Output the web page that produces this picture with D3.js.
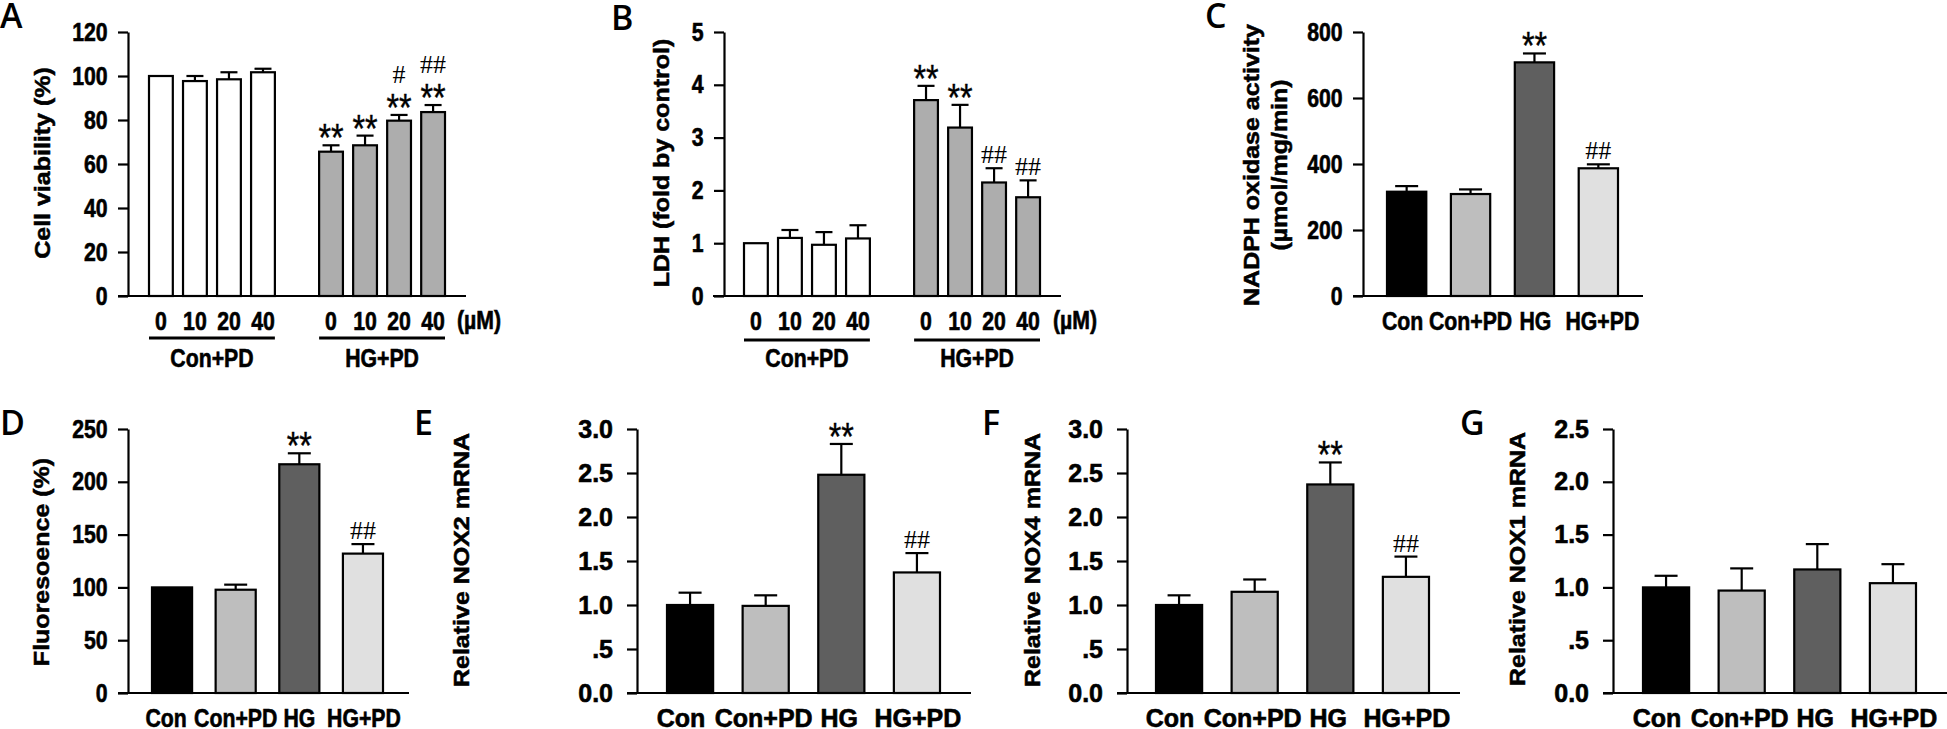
<!DOCTYPE html>
<html>
<head>
<meta charset="utf-8">
<script src="https://cdn.jsdelivr.net/npm/d3@7"></script>
<style>
  html, body { margin: 0; padding: 0; background: #fff; }
  svg { display: block; }
</style>
</head>
<body>
<svg id="fig" width="1947" height="729"></svg>
<script>
// ---- data ----
const doses = ["0", "10", "20", "40"];
const groups = ["Con", "Con+PD", "HG", "HG+PD"];

// A: cell viability (%)
const viabCon = [100, 97.7, 98.5, 101.7];
const viabConErr = [0, 2.3, 3.2, 1.6];
const viabHG = [65.6, 68.5, 79.7, 83.6];
const viabHGErr = [2.9, 4.4, 2.6, 3.2];
const viabStars = ["", "", "", "", "**", "**", "**", "**"];
const viabHash = ["", "", "", "", "", "", "#", "##"];

// B: LDH (fold by control)
const ldhCon = [1.0, 1.1, 0.97, 1.09];
const ldhConErr = [0, 0.15, 0.24, 0.25];
const ldhHG = [3.71, 3.19, 2.15, 1.87];
const ldhHGErr = [0.27, 0.43, 0.27, 0.32];
const ldhStars = ["", "", "", "", "**", "**", "", ""];
const ldhHash = ["", "", "", "", "", "", "##", "##"];

// C-G: four groups
const nadph = [316, 309, 708, 387];
const nadphErr = [17, 14, 27, 12];
const fluor = [100, 97.8, 216.6, 132];
const fluorErr = [0, 4.8, 10.4, 9];
const nox2 = [1.0, 0.99, 2.48, 1.37];
const nox2Err = [0.14, 0.12, 0.35, 0.22];
const nox4 = [1.0, 1.15, 2.37, 1.32];
const nox4Err = [0.11, 0.14, 0.25, 0.23];
const nox1 = [1.0, 0.97, 1.17, 1.04];
const nox1Err = [0.11, 0.21, 0.24, 0.18];
const fourStars = ["", "", "**", ""];
const fourHash = ["", "", "", "##"];
const noMarks = ["", "", "", ""];

const groupFills = ["#000000", "#bebebe", "#5f5f5f", "#e0e0e0"];

const SQ = 0.85; // panels A-D are squeezed horizontally in the source figure
const sans = "'Liberation Sans', Arial, sans-serif";

const svg = d3.select("#fig");

function fmtDec(d) {
  if (d === 0) return "0.0";
  if (d === 0.5) return ".5";
  return d.toFixed(1);
}

// heavy bold text like the scanned figure
function boldText(sel, size) {
  sel.attr("font-family", sans).attr("font-weight", "bold").attr("font-size", size)
    .attr("fill", "#000").attr("stroke", "#000").attr("stroke-width", 0.6);
}

function drawPanel(cfg) {
  const g = svg.append("g");
  const sx = cfg.sx;
  const shift = cfg.labelShift || cfg.bars.map(() => 0);

  const y = d3.scaleLinear().domain([0, cfg.yMax]).range([cfg.yBot, cfg.yTop]);
  const x = d3.scaleBand().domain(cfg.keys).range(cfg.xRange)
    .paddingInner(cfg.pad).paddingOuter(0);
  const bw = x.bandwidth();

  // y axis
  const ya = g.append("g")
    .attr("transform", `translate(${cfg.axisX},0)`)
    .call(d3.axisLeft(y).tickValues(cfg.ticks).tickFormat(cfg.fmt || d3.format("d"))
      .tickSize(10).tickPadding(14).tickSizeOuter(0));
  ya.select(".domain").attr("stroke", "#000").attr("stroke-width", 2.2);
  ya.selectAll(".tick line").attr("stroke", "#000").attr("stroke-width", 2.2);
  ya.selectAll(".tick text").call(boldText, 25)
    .attr("transform", `scale(${sx},1)`);

  // baseline
  g.append("line")
    .attr("x1", cfg.base[0]).attr("x2", cfg.base[1])
    .attr("y1", y(0)).attr("y2", y(0))
    .attr("stroke", "#000").attr("stroke-width", 2.2);

  // x labels
  const xa = g.append("g")
    .attr("transform", `translate(0,${y(0)})`)
    .call(d3.axisBottom(x).tickValues(cfg.bars.map(b => b.key))
      .tickFormat((d, i) => cfg.bars[i].label).tickSize(0).tickPadding(16));
  xa.select(".domain").remove();
  xa.selectAll(".tick text").call(boldText, 25)
    .attr("transform", (d, i) => `translate(${shift[i]},0) scale(${sx},1)`);

  // bars
  g.selectAll("rect.bar").data(cfg.bars).enter().append("rect")
    .attr("class", "bar")
    .attr("x", d => x(d.key))
    .attr("y", d => y(d.v))
    .attr("width", bw)
    .attr("height", d => y(0) - y(d.v))
    .attr("fill", d => d.fill)
    .attr("stroke", "#000").attr("stroke-width", 2.2);

  // error bars (upper only)
  const withErr = cfg.bars.filter(d => d.e > 0);
  g.selectAll("line.err").data(withErr).enter().append("line")
    .attr("x1", d => x(d.key) + bw / 2).attr("x2", d => x(d.key) + bw / 2)
    .attr("y1", d => y(d.v)).attr("y2", d => y(d.v + d.e))
    .attr("stroke", "#000").attr("stroke-width", 2.2);
  g.selectAll("line.cap").data(withErr).enter().append("line")
    .attr("x1", d => x(d.key) + bw / 2 - cfg.cap / 2)
    .attr("x2", d => x(d.key) + bw / 2 + cfg.cap / 2)
    .attr("y1", d => y(d.v + d.e)).attr("y2", d => y(d.v + d.e))
    .attr("stroke", "#000").attr("stroke-width", 2.2);

  // significance marks
  cfg.bars.forEach(d => {
    const cx = x(d.key) + bw / 2;
    const top = y(d.v + d.e);
    if (d.star) {
      g.append("text")
        .attr("transform", `translate(${cx},${top + 6}) scale(${SQ},1)`)
        .attr("text-anchor", "middle")
        .attr("font-family", sans).attr("font-size", 38)
        .attr("stroke", "#000").attr("stroke-width", 0.4)
        .text(d.star);
    }
    if (d.hash) {
      const by = d.star ? top - 32 : top - 5;
      g.append("text")
        .attr("transform", `translate(${cx},${by})`)
        .attr("text-anchor", "middle")
        .attr("font-family", "'Liberation Serif', 'Times New Roman', serif")
        .attr("font-size", 26)
        .text(d.hash);
    }
  });

  // y label
  cfg.ylabel.forEach((line, i) => {
    g.append("text")
      .attr("transform", `translate(${cfg.ylabelX[i]},${cfg.ylabelY}) scale(${SQ},1) rotate(-90)`)
      .attr("text-anchor", "middle")
      .attr("dominant-baseline", "central")
      .call(boldText, 25)
      .text(line);
  });

  // panel letter
  g.append("text")
    .attr("x", cfg.letterPos[0]).attr("y", cfg.letterPos[1])
    .attr("font-family", "'Open Sans', 'Noto Sans', sans-serif")
    .attr("font-weight", 600)
    .attr("font-size", 34)
    .text(cfg.letter);

  // dose groups (A, B)
  if (cfg.groupsBelow) {
    cfg.groupsBelow.forEach(gr => {
      const x1 = x(gr.from), x2 = x(gr.to) + bw;
      g.append("line")
        .attr("x1", x1).attr("x2", x2)
        .attr("y1", y(0) + cfg.underlineDy).attr("y2", y(0) + cfg.underlineDy)
        .attr("stroke", "#000").attr("stroke-width", 3.2);
      g.append("text")
        .attr("transform", `translate(${(x1 + x2) / 2},${y(0) + 71}) scale(${sx},1)`)
        .attr("text-anchor", "middle")
        .call(boldText, 25)
        .text(gr.label);
    });
    g.append("text")
      .attr("transform", `translate(${cfg.unitX},${y(0) + 33}) scale(${sx},1)`)
      .call(boldText, 25)
      .text("(\u00b5M)");
  }
}

// build bar lists
const doseKeys = ["c0", "c10", "c20", "c40", "gap", "h0", "h10", "h20", "h40"];
function doseBars(con, conErr, hg, hgErr, stars, hash) {
  const out = [];
  doses.forEach((d, i) => out.push({ key: "c" + d, label: d, v: con[i], e: conErr[i], fill: "#ffffff", star: stars[i], hash: hash[i] }));
  doses.forEach((d, i) => out.push({ key: "h" + d, label: d, v: hg[i], e: hgErr[i], fill: "#adadad", star: stars[i + 4], hash: hash[i + 4] }));
  return out;
}
function groupBars(vals, errs, stars, hash) {
  return groups.map((gname, i) => ({ key: gname, label: gname, v: vals[i], e: errs[i], fill: groupFills[i], star: stars[i], hash: hash[i] }));
}
const doseGroups = [{ from: "c0", to: "c40", label: "Con+PD" }, { from: "h0", to: "h40", label: "HG+PD" }];

drawPanel({
  letter: "A", letterPos: [0, 28], sx: SQ,
  yMax: 120, ticks: [0, 20, 40, 60, 80, 100, 120], yTop: 32, yBot: 296,
  axisX: 128, base: [118, 466], keys: doseKeys, xRange: [149, 445], pad: 0.3, cap: 17,
  bars: doseBars(viabCon, viabConErr, viabHG, viabHGErr, viabStars, viabHash),
  ylabel: ["Cell viability (%)"], ylabelX: [43], ylabelY: 163,
  groupsBelow: doseGroups, underlineDy: 42, unitX: 457
});

drawPanel({
  letter: "B", letterPos: [611, 30], sx: SQ,
  yMax: 5, ticks: [0, 1, 2, 3, 4, 5], yTop: 32, yBot: 296,
  axisX: 724, base: [713, 1061], keys: doseKeys, xRange: [744, 1040], pad: 0.3, cap: 17,
  bars: doseBars(ldhCon, ldhConErr, ldhHG, ldhHGErr, ldhStars, ldhHash),
  ylabel: ["LDH (fold by control)"], ylabelX: [662], ylabelY: 163,
  groupsBelow: doseGroups, underlineDy: 44, unitX: 1053
});

drawPanel({
  letter: "C", letterPos: [1205, 28], sx: SQ, labelShift: [-4, 0, 1, 4],
  yMax: 800, ticks: [0, 200, 400, 600, 800], yTop: 32, yBot: 296,
  axisX: 1363, base: [1353, 1643], keys: groups, xRange: [1387, 1618], pad: 0.385, cap: 23,
  bars: groupBars(nadph, nadphErr, fourStars, fourHash),
  ylabel: ["NADPH oxidase activity", "(\u00b5mol/mg/min)"], ylabelX: [1252, 1280], ylabelY: 165
});

drawPanel({
  letter: "D", letterPos: [0, 435], sx: SQ, labelShift: [-6, 0, 0, 1],
  yMax: 250, ticks: [0, 50, 100, 150, 200, 250], yTop: 429, yBot: 693,
  axisX: 128, base: [118, 409], keys: groups, xRange: [152, 383], pad: 0.37, cap: 23,
  bars: groupBars(fluor, fluorErr, fourStars, fourHash),
  ylabel: ["Fluoresoence (%)"], ylabelX: [42], ylabelY: 562
});

drawPanel({
  letter: "E", letterPos: [414, 435], sx: 1, labelShift: [-9, -2, -2, 1],
  yMax: 3, ticks: [0, 0.5, 1, 1.5, 2, 2.5, 3], fmt: fmtDec, yTop: 429, yBot: 693,
  axisX: 637, base: [627, 971], keys: groups, xRange: [667, 940], pad: 0.39, cap: 23,
  bars: groupBars(nox2, nox2Err, fourStars, fourHash),
  ylabel: ["Relative NOX2 mRNA"], ylabelX: [462], ylabelY: 560
});

drawPanel({
  letter: "F", letterPos: [982, 435], sx: 1, labelShift: [-9, -2, -2, 1],
  yMax: 3, ticks: [0, 0.5, 1, 1.5, 2, 2.5, 3], fmt: fmtDec, yTop: 429, yBot: 693,
  axisX: 1127, base: [1117, 1460], keys: groups, xRange: [1156, 1429], pad: 0.39, cap: 23,
  bars: groupBars(nox4, nox4Err, fourStars, fourHash),
  ylabel: ["Relative NOX4 mRNA"], ylabelX: [1033], ylabelY: 560
});

drawPanel({
  letter: "G", letterPos: [1460, 435], sx: 1, labelShift: [-9, -2, -2, 1],
  yMax: 2.5, ticks: [0, 0.5, 1, 1.5, 2, 2.5], fmt: fmtDec, yTop: 429, yBot: 693,
  axisX: 1613, base: [1603, 1947], keys: groups, xRange: [1643, 1916], pad: 0.39, cap: 23,
  bars: groupBars(nox1, nox1Err, noMarks, noMarks),
  ylabel: ["Relative NOX1 mRNA"], ylabelX: [1518], ylabelY: 559
});
</script>
</body>
</html>
